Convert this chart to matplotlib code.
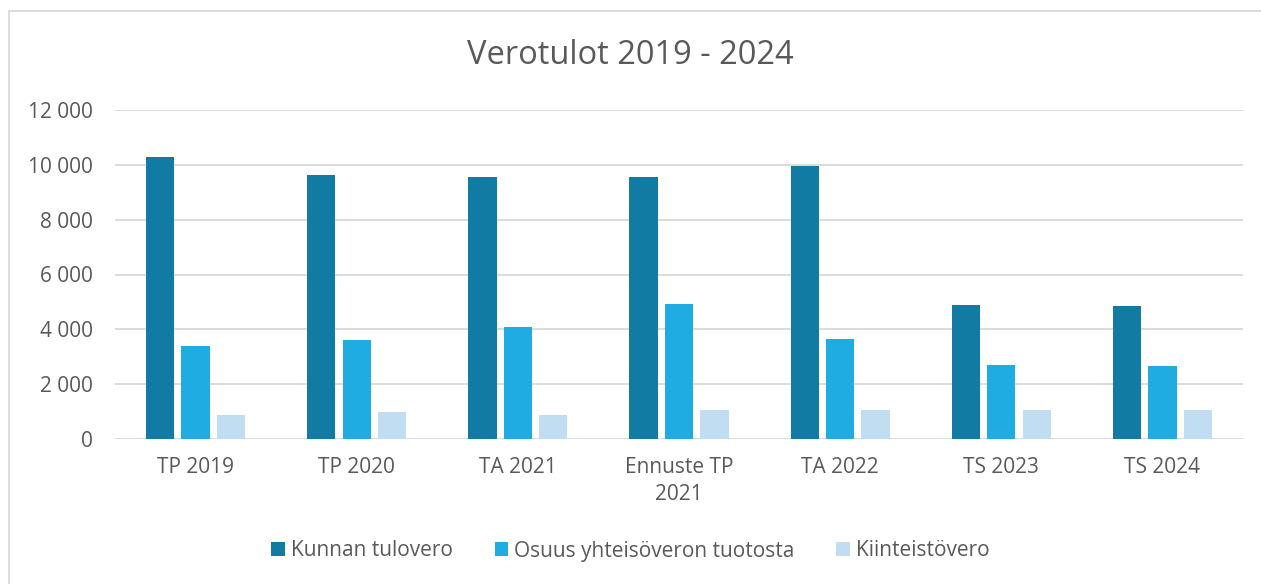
import numpy as np
import matplotlib.pyplot as plt
from matplotlib.patches import Rectangle

# data
categories = ["TP 2019", "TP 2020", "TA 2021", "Ennuste TP\n2021", "TA 2022", "TS 2023", "TS 2024"]
series_names = ["Kunnan tulovero", "Osuus yhteisöveron tuotosta", "Kiinteistövero"]
tulovero = [10280, 9620, 9550, 9550, 9960, 4900, 4860]
yhteisovero = [3390, 3610, 4080, 4920, 3660, 2700, 2660]
kiinteistovero = [875, 996, 875, 1057, 1057, 1057, 1057]
y_ticks = [0, 2000, 4000, 6000, 8000, 10000, 12000]

colors = ["#127BA3", "#1EACE3", "#C0DDF2"]
text_color = "#595959"
grid_color = "#D9D9D9"

plt.rcParams['font.family'] = ['Open Sans', 'DejaVu Sans']

W, H = 1261, 584
fig = plt.figure(figsize=(W / 100, H / 100), dpi=100)
ax = fig.add_axes([115 / W, 1 - 439 / H, 1128 / W, 329 / H])

x = np.arange(len(categories))
width = 0.175
step = 0.22
for i, vals in enumerate([tulovero, yhteisovero, kiinteistovero]):
    ax.bar(x + (i - 1) * step, vals, width, color=colors[i], label=series_names[i], zorder=3)

ax.set_xlim(-0.5, len(categories) - 0.5)
ax.set_ylim(0, 12000)
ax.set_yticks(y_ticks)
ax.set_yticklabels([f"{v:,}".replace(",", " ") for v in y_ticks])
ax.set_xticks(x)
ax.set_xticklabels(categories, linespacing=1.35)
ax.tick_params(axis='both', length=0, labelsize=15, colors=text_color)
ax.tick_params(axis='y', pad=16)
ax.tick_params(axis='x', pad=13)
ax.grid(axis='y', color=grid_color, linewidth=1.3, zorder=0)
for s in ax.spines.values():
    s.set_visible(False)

fig.text(0.5, 1 - 55 / H, "Verotulot 2019 - 2024", ha='center', va='center',
         fontsize=23.5, color=text_color)

fig.legend(loc='center', bbox_to_anchor=(0.5, 1 - 551 / H), ncol=3, frameon=False,
           fontsize=15, labelcolor=text_color, handlelength=0.65, handleheight=0.65,
           handletextpad=0.3, columnspacing=2.0)

# light border around the chart area
fig.patches.append(Rectangle((9 / W, -0.1), 1.2, 1.1 - 11 / H, transform=fig.transFigure,
                             fill=False, edgecolor=grid_color, linewidth=1.3))

fig.savefig("out.png", dpi=100)
